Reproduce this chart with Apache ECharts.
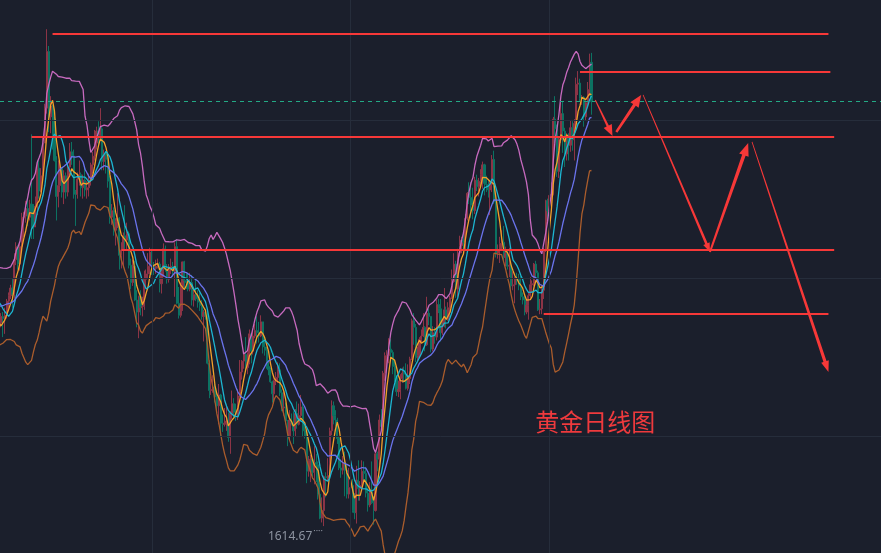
<!DOCTYPE html>
<html>
<head>
<meta charset="utf-8">
<title>黄金日线图</title>
<script src="https://cdn.jsdelivr.net/npm/echarts@6/dist/echarts.min.js"></script>
<style>
  html, body { margin: 0; padding: 0; background: #1b1f2c; }
  #chart { width: 881px; height: 553px; }
</style>
</head>
<body>
<div id="chart"></div>
<script>
// XAUUSD daily bars, [open, close, low, high]
const bars2022 = [
  // Jan (seed for the averages)
  [1829,1801,1798,1832],[1801,1814,1799,1815],[1814,1810,1805,1829],[1810,1791,1782,1811],[1791,1797,1788,1798],
  [1797,1801,1790,1804],[1801,1818,1799,1822],[1818,1826,1813,1828],[1826,1821,1813,1829],[1821,1817,1812,1830],
  [1817,1819,1816,1822],[1819,1813,1805,1822],[1813,1843,1811,1845],[1843,1839,1834,1847],[1839,1835,1831,1845],
  [1835,1843,1831,1845],[1843,1848,1840,1852],[1848,1819,1817,1853],[1819,1796,1795,1823],[1796,1791,1780,1800],
  [1791,1797,1786,1802],
  // Feb
  [1797,1801,1795,1807],[1801,1807,1797,1810],[1807,1805,1788,1811],[1805,1808,1791,1815],
  [1808,1821,1805,1823],[1821,1826,1815,1829],[1826,1833,1823,1836],[1833,1827,1815,1842],[1827,1859,1821,1865],
  [1859,1871,1854,1875],[1871,1855,1850,1872],[1855,1871,1849,1874],[1871,1898,1868,1902],[1898,1899,1880,1903],
  [1899,1906,1893,1913],[1906,1898,1890,1914],[1898,1910,1895,1914],[1910,1903,1878,1974],[1903,1889,1878,1910],
  [1889,1908,1889,1917],
  // Mar
  [1908,1943,1900,1950],[1943,1922,1915,1950],[1922,1936,1921,1943],[1936,1966,1930,1971],
  [1966,1998,1966,2002],[1998,2050,1993,2070.4],[2050,1990,1976,2055],[1990,2000,1975,2009],[2000,1988,1960,2001],
  [1988,1950,1949,1990],[1950,1917,1895,1954],[1917,1927,1907,1950],[1927,1943,1921,1948],[1943,1921,1916,1944],
  [1921,1936,1910,1941],[1936,1921,1915,1939],[1921,1944,1917,1947],[1944,1958,1936,1966],[1958,1954,1946,1967],
  [1954,1922,1915,1960],[1922,1919,1890,1923],[1919,1933,1915,1939],[1933,1937,1927,1950],
  // Apr
  [1937,1925,1917,1939],
  [1925,1932,1915,1937],[1932,1923,1917,1945],[1923,1925,1915,1931],[1925,1932,1917,1938],[1932,1946,1927,1948],
  [1946,1954,1938,1958],[1954,1966,1950,1978],[1966,1977,1960,1981],[1977,1973,1963,1986],
  [1973,1979,1970,1998],[1979,1949,1941,1981],[1949,1956,1941,1960],[1956,1951,1938,1958],[1951,1931,1925,1953],
  [1931,1898,1892,1936],[1898,1904,1891,1910],[1904,1886,1881,1907],[1886,1894,1872,1897],[1894,1897,1888,1920],
  // May
  [1897,1863,1850,1898],[1863,1868,1851,1875],[1868,1881,1852,1884],[1881,1877,1867,1909],[1877,1883,1868,1893],
  [1883,1854,1851,1885],[1854,1838,1832,1860],[1838,1853,1835,1859],[1853,1822,1821,1858],[1822,1811,1797,1831],
  [1811,1825,1787,1826],[1825,1815,1808,1831],[1815,1816,1807,1825],[1816,1841,1813,1849],[1841,1846,1834,1850],
  [1846,1853,1842,1865],[1853,1866,1846,1870],[1866,1853,1845,1869],[1853,1851,1845,1857],[1851,1853,1846,1859],
  [1853,1855,1851,1860],[1855,1837,1829,1857],
  // Jun
  [1837,1848,1828,1850],[1848,1869,1843,1874],[1869,1850,1848,1872],
  [1850,1841,1837,1855],[1841,1852,1838,1855],[1852,1853,1846,1860],[1853,1848,1843,1857],[1848,1871,1825,1875],
  [1871,1819,1818,1878],[1819,1808,1805,1834],[1808,1834,1806,1838],[1834,1857,1812,1857],[1857,1840,1833,1858],
  [1840,1838,1832,1846],[1838,1832,1830,1847],[1832,1838,1830,1847],[1838,1822,1817,1845],[1822,1827,1816,1833],
  [1827,1823,1821,1841],[1823,1820,1815,1831],[1820,1817,1812,1829],[1817,1807,1804,1822],
  // Jul
  [1807,1811,1784,1813],
  [1811,1808,1804,1814],[1808,1764,1763,1812],[1764,1739,1732,1767],[1739,1740,1735,1752],[1740,1742,1737,1753],
  [1742,1733,1728,1745],[1733,1725,1721,1736],[1725,1735,1708,1745],[1735,1709,1697,1736],[1709,1708,1701,1717],
  [1708,1709,1706,1723],[1709,1711,1702,1724],[1711,1696,1692,1719],[1696,1718,1681,1720],[1718,1727,1713,1739],
  [1727,1719,1713,1732],[1719,1717,1711,1727],[1717,1734,1712,1740],[1734,1756,1733,1767],[1756,1766,1749,1767],
  // Aug
  [1766,1772,1759,1775],[1772,1760,1758,1788],[1760,1765,1754,1774],[1765,1791,1763,1795],[1791,1775,1764,1792],
  [1775,1789,1772,1795],[1789,1794,1787,1800],[1794,1792,1782,1807],[1792,1789,1783,1802],[1789,1802,1788,1808],
  [1802,1779,1773,1802],[1779,1776,1771,1787],[1776,1761,1759,1779],[1761,1758,1753,1767],[1758,1747,1746,1760],
  [1747,1736,1728,1748],[1736,1748,1727,1749],[1748,1751,1744,1756],[1751,1758,1746,1765],[1758,1737,1734,1764],
  [1737,1723,1720,1740],[1723,1724,1716,1739],[1724,1711,1708,1728],
  // Sep
  [1711,1697,1688,1712],[1697,1712,1693,1721],
  [1712,1710,1707,1718],[1710,1702,1690,1720],[1702,1718,1697,1722],[1718,1708,1704,1729],[1708,1716,1707,1727],
  [1716,1724,1714,1735],[1724,1702,1697,1728],[1702,1697,1695,1710],[1697,1665,1654,1701],[1665,1675,1660,1679],
  [1675,1676,1655,1680],[1676,1664,1658,1677],[1664,1673,1653,1688],[1673,1671,1655,1681],[1671,1644,1639,1674],
  [1644,1622,1621,1654],[1622,1629,1618,1641],[1629,1660,1614.67,1661],[1660,1659,1641,1664],[1659,1661,1656,1677],
  // Oct
  [1661,1702,1659,1705],[1702,1725,1698,1730],[1725,1716,1708,1729],[1716,1712,1706,1721],[1712,1695,1690,1714],
  [1695,1668,1666,1697],[1668,1666,1659,1676],[1666,1673,1662,1679],[1673,1666,1642,1683],[1666,1644,1640,1671],
  [1644,1650,1640,1668],[1650,1652,1644,1660],[1652,1629,1627,1658],[1629,1627,1621,1645],[1627,1657,1617,1670],
  [1657,1649,1638,1675],[1649,1652,1638,1656],[1652,1665,1649,1675],[1665,1663,1656,1674],[1663,1645,1641,1669],
  [1645,1634,1628,1650],
  // Nov
  [1634,1647,1632,1655],[1647,1636,1635,1674],[1636,1629,1616,1642],[1629,1681,1628,1683],
  [1681,1676,1665,1683],[1676,1712,1671,1717],[1712,1706,1702,1722],[1706,1755,1702,1757],[1755,1771,1748,1774],
  [1771,1771,1757,1776],[1771,1777,1764,1787],[1777,1774,1768,1786],[1774,1761,1754,1776],[1761,1751,1747,1768],
  [1751,1738,1734,1753],[1738,1740,1733,1748],[1740,1750,1731,1754],[1750,1755,1746,1760],[1755,1754,1746,1761],
  [1754,1741,1740,1764],[1741,1750,1739,1763],[1750,1768,1745,1770],
  // Dec
  [1768,1803,1767,1805],[1803,1797,1781,1810],
  [1797,1769,1765,1800],[1769,1771,1766,1779],[1771,1786,1769,1788],[1786,1789,1783,1795],[1789,1797,1788,1810],
  [1797,1781,1775,1798],[1781,1810,1780,1825],[1810,1807,1799,1814],[1807,1777,1774,1807],[1777,1792,1775,1798],
  [1792,1788,1782,1797],[1788,1818,1785,1822],[1818,1814,1810,1823],[1814,1792,1784,1823],[1792,1798,1790,1804],
  [1798,1813,1797,1833],[1813,1804,1796,1816],[1804,1815,1803,1820],[1815,1824,1806,1826]
];
const bars2023 = [
  // Jan
  [1824,1839,1823,1850],[1839,1855,1838,1865],[1855,1832,1824,1858],[1832,1865,1825,1869],
  [1865,1872,1862,1881],[1872,1877,1865,1880],[1877,1875,1867,1886],[1875,1897,1867,1901],[1897,1920,1895,1921],
  [1920,1916,1910,1930],[1916,1909,1897,1930],[1909,1904,1896,1925],[1904,1932,1901,1935],[1932,1926,1922,1937],
  [1926,1931,1917,1934],[1931,1937,1925,1942],[1937,1946,1924,1949],[1946,1929,1918,1947],[1929,1928,1921,1936],
  [1928,1923,1916,1932],[1923,1928,1900,1932],
  // Feb
  [1928,1951,1921,1955],[1951,1912,1910,1959],[1912,1865,1861,1918],
  [1865,1868,1860,1873],[1868,1874,1856,1880],[1874,1875,1868,1886],[1875,1861,1859,1890],[1861,1865,1853,1871],
  [1865,1853,1850,1868],[1853,1854,1843,1870],[1854,1835,1830,1857],[1835,1836,1831,1848],[1836,1842,1819,1843],
  [1842,1841,1836,1847],[1841,1835,1831,1846],[1835,1825,1822,1844],[1825,1822,1818,1829],[1822,1811,1808,1827],
  [1811,1817,1809,1823],[1817,1826,1804,1829],
  // Mar
  [1826,1836,1824,1843],[1836,1837,1829,1840],[1837,1855,1835,1856],
  [1855,1847,1842,1858],[1847,1813,1812,1849],[1813,1814,1809,1823],[1814,1831,1809,1836],[1831,1868,1823,1870],
  [1868,1913,1866,1914],[1913,1904,1894,1915],[1904,1918,1886,1937],[1918,1919,1906,1930],[1919,1988,1918,1990],
  [1988,1979,1966,2009],[1979,1940,1935,1983],[1940,1969,1934,1972],[1969,1993,1966,2003],[1993,1977,1957,2004],
  [1977,1956,1944,1980],[1956,1973,1950,1975],[1973,1964,1950,1975],[1964,1980,1958,1987],[1980,1969,1959,1986],
  // Apr
  [1969,1984,1950,1988],[1984,2020,1980,2026],[2020,2021,2010,2032],[2021,2007,2004,2025],[2007,2008,2001,2010],
  [2008,1990,1981,2009],[1990,2003,1987,2005],[2003,2015,1999,2022],[2015,2040,2009,2048],[2040,2004,1992,2048.7]
];
const marketHolidays = ['2022-04-15', '2022-12-26', '2023-01-02'];

// Analyst annotations, in (visible bar index, price)
const levelPrices = [2066.3, 2031.2, 1971.8, 1868.1, 1809.2];
const levelFrom   = [27, 303, 16, 63, 284];
const levelTo     = [433, 434, 436, 436, 433];
const pathFrom    = [[311.4, 2005.5], [322.4, 1976.1], [335.9, 2010.1], [371.0, 1866.1], [392.5, 1967.0]];
const pathTo      = [[320.3, 1972.5], [335.4, 2010.1], [370.5, 1866.1], [390.9, 1966.1], [433.3, 1756.0]];
const titleText   = '黄金日线图';
const titleAt     = [311.4, 1710.1];

// Background guide lines
const guidePrices = [1987.2, 1842.2, 1697.2];
const guideBars   = [79, 183, 287];

const WARMUP = 22;   // bars before the first visible one, only feed the averages
const SLOTS = 461;   // visible category slots, history plus room for the projection
const PRICE_MIN = 1590, PRICE_MAX = 2097.2;

const bars = bars2022.concat(bars2023);
const closes = bars.map(b => b[1]);

function tradingDays(start, count, skip) {
  const out = [];
  const d = new Date(start + 'T00:00:00Z');
  while (out.length < count) {
    const wd = d.getUTCDay();
    const s = d.toISOString().slice(0, 10);
    if (wd !== 0 && wd !== 6 && skip.indexOf(s) < 0) out.push(s);
    d.setUTCDate(d.getUTCDate() + 1);
  }
  return out;
}
const dates = tradingDays('2022-01-03', WARMUP + SLOTS, marketHolidays);

function sma(vals, n) {
  return vals.map((v, i) => {
    if (i < n - 1) return null;
    let s = 0;
    for (let j = i - n + 1; j <= i; j++) s += vals[j];
    return +(s / n).toFixed(2);
  });
}
function bollinger(vals, n, k) {
  const mid = sma(vals, n);
  const up = [], dn = [];
  vals.forEach((v, i) => {
    if (mid[i] == null) { up.push(null); dn.push(null); return; }
    let q = 0;
    for (let j = i - n + 1; j <= i; j++) q += (vals[j] - mid[i]) ** 2;
    const sd = Math.sqrt(q / n);
    up.push(+(mid[i] + k * sd).toFixed(2));
    dn.push(+(mid[i] - k * sd).toFixed(2));
  });
  return { up, dn };
}

const ma5 = sma(closes, 5);
const ma10 = sma(closes, 10);
const ma20 = sma(closes, 20);
const boll = bollinger(closes, 20, 2);
const lastClose = closes[closes.length - 1];

const RED = '#f73838';
const at = (i, p) => [WARMUP + i, p];

function lineSeries(name, data, color, z) {
  return {
    name, type: 'line', data, z, showSymbol: false, symbol: 'none', silent: true,
    lineStyle: { color, width: 1.3 }, animation: false
  };
}

const chart = echarts.init(document.getElementById('chart'));
chart.setOption({
  backgroundColor: '#1b1f2c',
  animation: false,
  grid: { left: 0, right: 0, top: 0, bottom: 0 },
  xAxis: {
    type: 'category', data: dates, boundaryGap: true,
    min: WARMUP, max: WARMUP + SLOTS - 1,
    axisLine: { show: false }, axisTick: { show: false }, axisLabel: { show: false },
    splitLine: { show: false }
  },
  yAxis: {
    type: 'value', min: PRICE_MIN, max: PRICE_MAX,
    axisLine: { show: false }, axisTick: { show: false }, axisLabel: { show: false },
    splitLine: { show: false }
  },
  series: [
    {
      name: 'guides', type: 'line', data: [], z: 1, silent: true,
      markLine: {
        silent: true, symbol: 'none', animation: false,
        label: { show: false },
        lineStyle: { color: '#262d3b', width: 1, type: 'solid' },
        data: guidePrices.map(p => ({ yAxis: p }))
          .concat(guideBars.map(i => ({ xAxis: WARMUP + i })))
      }
    },
    {
      name: 'last price', type: 'line', data: [], z: 1, silent: true,
      markLine: {
        silent: true, symbol: 'none', animation: false,
        label: { show: false },
        lineStyle: { color: '#23a985', width: 1, type: [4, 4] },
        data: [{ yAxis: lastClose }]
      }
    },
    {
      name: 'XAUUSD', type: 'candlestick', data: bars, z: 2,
      barWidth: 1.6, clip: true,
      itemStyle: {
        color: '#8c3446', color0: '#0c7262',
        borderColor: '#8c3446', borderColor0: '#0c7262', borderWidth: 1
      },
      markPoint: {
        symbol: 'circle', symbolSize: 0, animation: false,
        data: [{ type: 'min', valueDim: 'lowest' }],
        label: {
          show: true, position: 'left', distance: 1, offset: [0, 10],
          formatter: p => '{v|' + Number(p.value).toFixed(2) + '}{d|····}',
          rich: {
            v: { color: '#8d93a0', fontSize: 12, fontFamily: 'Noto Sans' },
            d: { color: '#8d93a0', fontSize: 9, fontFamily: 'Noto Sans', padding: [0, 0, 9, 1] }
          }
        }
      }
    },
    lineSeries('MA5', ma5, '#f5a12a', 4),
    lineSeries('MA10', ma10, '#1db6d2', 4),
    lineSeries('MA20', ma20, '#6b74ee', 4),
    lineSeries('BOLL upper', boll.up, '#c76abf', 3),
    lineSeries('BOLL lower', boll.dn, '#ab5d2c', 3),
    {
      name: 'levels', type: 'line', data: [], z: 6, silent: true,
      markLine: {
        silent: true, symbol: 'none', animation: false,
        label: { show: false },
        lineStyle: { color: RED, width: 2, type: 'solid' },
        data: levelPrices.map((p, k) => [{ coord: at(levelFrom[k], p) }, { coord: at(levelTo[k], p) }])
      }
    }
  ]
});

// Tapered projection arrows, positioned through the chart's own scales
function toPx(pt) { return chart.convertToPixel({ gridIndex: 0 }, at(pt[0], pt[1])); }
const arrowShape = [
  { w0: 1.0, w1: 2.4, head: 11, headW: 9 },
  { w0: 2.4, w1: 3.2, head: 12, headW: 10 },
  { w0: 0.8, w1: 2.6, head: 9,  headW: 7 },
  { w0: 2.0, w1: 3.6, head: 13, headW: 10 },
  { w0: 0.8, w1: 3.2, head: 11, headW: 8 }
];
const graphics = pathFrom.map((f, k) => {
  const a = toPx(f), b = toPx(pathTo[k]);
  const s = arrowShape[k];
  const dx = b[0] - a[0], dy = b[1] - a[1];
  const len = Math.hypot(dx, dy);
  const ux = dx / len, uy = dy / len, nx = -uy, ny = ux;
  const neck = [b[0] - ux * s.head, b[1] - uy * s.head];
  const pts = [
    [a[0] + nx * s.w0 / 2, a[1] + ny * s.w0 / 2],
    [neck[0] + nx * s.w1 / 2, neck[1] + ny * s.w1 / 2],
    [neck[0] + nx * s.headW / 2, neck[1] + ny * s.headW / 2],
    [b[0], b[1]],
    [neck[0] - nx * s.headW / 2, neck[1] - ny * s.headW / 2],
    [neck[0] - nx * s.w1 / 2, neck[1] - ny * s.w1 / 2],
    [a[0] - nx * s.w0 / 2, a[1] - ny * s.w0 / 2]
  ];
  return { type: 'polygon', silent: true, z: 100, shape: { points: pts }, style: { fill: RED } };
});
const tp = toPx(titleAt);
graphics.push({
  type: 'text', silent: true, z: 100, x: tp[0], y: tp[1],
  style: {
    text: titleText, fill: '#ef3a3d', fontSize: 24,
    fontFamily: '"Noto Sans CJK SC", sans-serif',
    textAlign: 'center', textVerticalAlign: 'middle',
    align: 'center', verticalAlign: 'middle'
  }
});
chart.setOption({ graphic: graphics });
</script>
</body>
</html>
